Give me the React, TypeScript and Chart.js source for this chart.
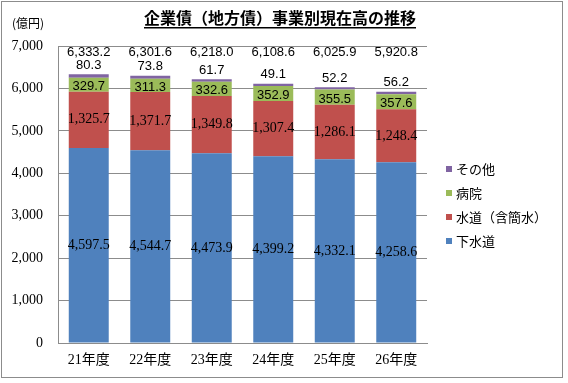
import React, { useEffect, useRef } from "react";
import { Chart, registerables } from "chart.js";

Chart.register(...registerables);

const categories = ["21年度", "22年度", "23年度", "24年度", "25年度", "26年度"];
const gesuido = [4597.5, 4544.7, 4473.9, 4399.2, 4332.1, 4258.6];
const suido = [1325.7, 1371.7, 1349.8, 1307.4, 1286.1, 1248.4];
const byoin = [329.7, 311.3, 332.6, 352.9, 355.5, 357.6];
const sonota = [80.3, 73.8, 61.7, 49.1, 52.2, 56.2];
const totals = [6333.2, 6301.6, 6218.0, 6108.6, 6025.9, 5920.8];
const seriesNames = ["下水道", "水道（含簡水）", "病院", "その他"];
const colors = ["#4F81BD", "#C0504D", "#9BBB59", "#8064A2"];
const title = "企業債（地方債）事業別現在高の推移";
const unitLabel = "(億円)";

const fmt = (v: number) =>
  v.toLocaleString("en-US", { minimumFractionDigits: 1, maximumFractionDigits: 1 });

const SERIF = '"Liberation Serif", "Noto Sans CJK JP", serif';
const SANS = '"Liberation Sans", "Noto Sans CJK JP", sans-serif';
const CJK = '"Noto Sans CJK JP", sans-serif';

const decorPlugin = {
  id: "decor",
  beforeDraw(chart: any) {
    const ctx = chart.ctx;
    ctx.save();
    ctx.fillStyle = "#ffffff";
    ctx.fillRect(0, 0, chart.width, chart.height);
    ctx.strokeStyle = "#8c8c8c";
    ctx.lineWidth = 1;
    ctx.strokeRect(1.5, 1.5, 561, 376);
    ctx.restore();
  },
  afterDraw(chart: any) {
    const ctx = chart.ctx;
    ctx.save();
    // title
    ctx.font = 'bold 16px ' + CJK;
    ctx.fillStyle = "#000";
    ctx.textAlign = "center";
    ctx.textBaseline = "middle";
    const tx = 280;
    const ty = 18;
    ctx.fillText(title, tx, ty);
    const tw = ctx.measureText(title).width;
    ctx.fillRect(tx - tw / 2, ty + 9, tw, 1.5);
    // unit
    ctx.font = '12px ' + CJK;
    ctx.textAlign = "left";
    ctx.fillText(unitLabel, 12, 23);
    // legend
    const order = [3, 2, 1, 0];
    order.forEach((di, k) => {
      const y = 169 + k * 24;
      ctx.fillStyle = colors[di];
      ctx.fillRect(446, y - 3, 6, 6);
      ctx.fillStyle = "#000";
      ctx.font = '13px ' + CJK;
      ctx.textAlign = "left";
      ctx.textBaseline = "middle";
      ctx.fillText(seriesNames[di], 456, y);
    });
    ctx.restore();
  },
  afterDatasetsDraw(chart: any) {
    const ctx = chart.ctx;
    const yScale = chart.scales.y;
    ctx.save();
    ctx.textAlign = "center";
    ctx.textBaseline = "middle";
    ctx.fillStyle = "#000";
    chart.data.datasets.forEach((ds: any, di: number) => {
      const meta = chart.getDatasetMeta(di);
      meta.data.forEach((el: any, i: number) => {
        const v = ds.data[i];
        if (di === 3) {
          ctx.font = '13px ' + SANS;
          ctx.fillText(fmt(v), el.x, el.y - 9);
        } else if (di === 2) {
          ctx.font = '13px ' + SANS;
          ctx.fillText(fmt(v), el.x, (el.y + el.base) / 2 + 2);
        } else {
          ctx.font = '14px ' + SERIF;
          ctx.fillText(fmt(v), el.x, (el.y + el.base) / 2);
        }
        if (di === 3) {
          ctx.font = '13px ' + SANS;
          ctx.fillText(fmt(totals[i]), el.x, yScale.getPixelForValue(6840));
        }
      });
    });
    ctx.restore();
  },
};

export default function App() {
  const ref = useRef<HTMLCanvasElement | null>(null);
  useEffect(() => {
    document.body.style.margin = "0";
    const canvas = ref.current;
    if (!canvas) return;
    const datasetValues = [gesuido, suido, byoin, sonota];
    const chart = new Chart(canvas, {
      type: "bar",
      data: {
        labels: categories,
        datasets: datasetValues.map((d, i) => ({
          label: seriesNames[i],
          data: d,
          backgroundColor: colors[i],
          borderWidth: 0,
          barPercentage: 0.65,
          categoryPercentage: 1,
        })),
      },
      options: {
        animation: false,
        responsive: false,
        devicePixelRatio: 1,
        layout: { padding: { left: 0, top: 46, right: 141, bottom: 0 } },
        plugins: {
          legend: { display: false },
          title: { display: false },
          tooltip: { enabled: false },
        },
        scales: {
          x: {
            stacked: true,
            grid: { display: false, drawTicks: false },
            border: { color: "#8c8c8c", width: 1 },
            ticks: {
              color: "#000",
              font: { family: SERIF, size: 14 },
              padding: 9,
            },
            afterFit(scale: any) {
              scale.height = 40;
            },
          },
          y: {
            stacked: true,
            min: 0,
            max: 7000,
            grid: { color: "#8c8c8c", drawTicks: false },
            border: { color: "#8c8c8c", width: 1 },
            ticks: {
              stepSize: 1000,
              color: "#000",
              font: { family: SERIF, size: 14 },
              padding: 15,
              callback: (v: any) => Number(v).toLocaleString("en-US"),
            },
            afterFit(scale: any) {
              scale.width = 58;
            },
          },
        },
      },
      plugins: [decorPlugin],
    });
    return () => chart.destroy();
  }, []);
  return (
    <div style={{ width: 568, height: 383 }}>
      <canvas ref={ref} width={568} height={383} style={{ display: "block" }} />
    </div>
  );
}
